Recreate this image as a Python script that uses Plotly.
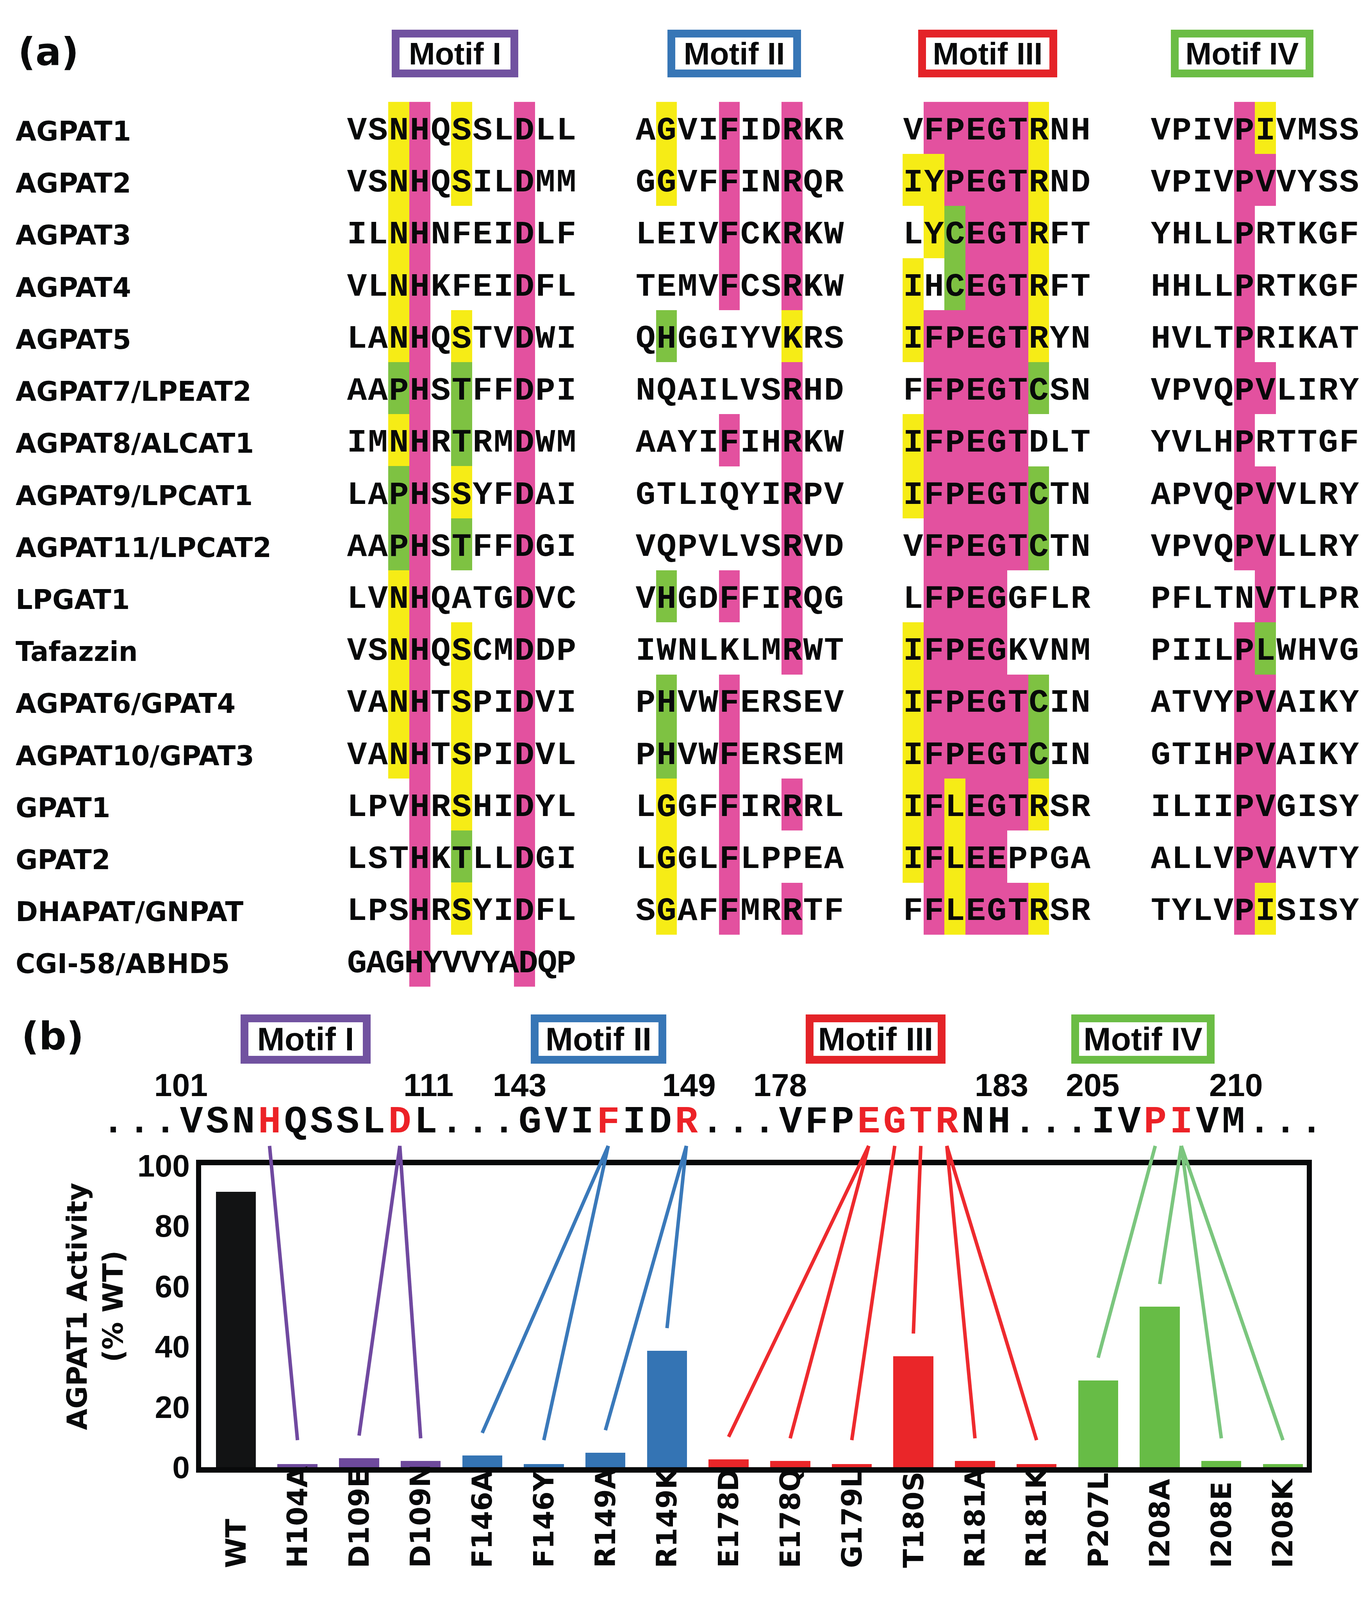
import numpy as np
import plotly.graph_objects as go

# reference geometry is measured on a 3513 x 4255 canvas; the browser viewport is
# 3513 x 4096, so the figure is drawn at that height and every vertical position is
# expressed as a fraction of the reference height (paper / axis domains).
W, H_REF = 3513, 4255
H = 4096
SY = H / H_REF
FS = 0.98  # font scale compensating the vertical squeeze

# ======================= DATA : panel (a) =======================
protein_names = [
    "AGPAT1", "AGPAT2", "AGPAT3", "AGPAT4", "AGPAT5", "AGPAT7/LPEAT2",
    "AGPAT8/ALCAT1", "AGPAT9/LPCAT1", "AGPAT11/LPCAT2", "LPGAT1", "Tafazzin",
    "AGPAT6/GPAT4", "AGPAT10/GPAT3", "GPAT1", "GPAT2", "DHAPAT/GNPAT", "CGI-58/ABHD5",
]
motif_titles = ["Motif I", "Motif II", "Motif III", "Motif IV"]

motif1_seqs = [
    "VSNHQSSLDLL", "VSNHQSILDMM", "ILNHNFEIDLF", "VLNHKFEIDFL", "LANHQSTVDWI",
    "AAPHSTFFDPI", "IMNHRTRMDWM", "LAPHSSYFDAI", "AAPHSTFFDGI", "LVNHQATGDVC",
    "VSNHQSCMDDP", "VANHTSPIDVI", "VANHTSPIDVL", "LPVHRSHIDYL", "LSTHKTLLDGI",
    "LPSHRSYIDFL", "GAGHYVVYADQP",
]
# p = conserved (magenta), y = similar (yellow), g = alternative (green)
motif1_marks = [
    "..yp.y..p..", "..yp.y..p..", "..yp....p..", "..yp....p..", "..yp.y..p..",
    "..gp.g..p..", "..yp.g..p..", "..gp.y..p..", "..gp.g..p..", "..yp....p..",
    "..yp.y..p..", "..yp.y..p..", "..yp.y..p..", "...p.y..p..", "...p.g..p..",
    "...p.y..p..", "...p....p..",
]
motif2_seqs = [
    "AGVIFIDRKR", "GGVFFINRQR", "LEIVFCKRKW", "TEMVFCSRKW", "QHGGIYVKRS",
    "NQAILVSRHD", "AAYIFIHRKW", "GTLIQYIRPV", "VQPVLVSRVD", "VHGDFFIRQG",
    "IWNLKLMRWT", "PHVWFERSEV", "PHVWFERSEM", "LGGFFIRRRL", "LGGLFLPPEA",
    "SGAFFMRRTF",
]
motif2_marks = [
    ".y..p..p..", ".y..p..p..", "....p..p..", "....p..p..", ".g.....y..",
    ".......p..", "....p..p..", ".......p..", ".......p..", ".g..p..p..",
    ".......p..", ".g..p.....", ".g..p.....", ".y..p..p..", ".y..p.....",
    ".y..p..p..",
]
motif3_seqs = [
    "VFPEGTRNH", "IYPEGTRND", "LYCEGTRFT", "IHCEGTRFT", "IFPEGTRYN",
    "FFPEGTCSN", "IFPEGTDLT", "IFPEGTCTN", "VFPEGTCTN", "LFPEGGFLR",
    "IFPEGKVNM", "IFPEGTCIN", "IFPEGTCIN", "IFLEGTRSR", "IFLEEPPGA",
    "FFLEGTRSR",
]
motif3_marks = [
    ".pppppy..", "yyppppy..", ".ygpppy..", "y.gpppy..", "ypppppy..",
    ".pppppg..", "yppppp...", "ypppppg..", ".pppppg..", ".pppp....",
    "ypppp....", "ypppppg..", "ypppppg..", "ypypppy..", "ypypp....",
    ".pypppy..",
]
motif4_seqs = [
    "VPIVPIVMSS", "VPIVPVVYSS", "YHLLPRTKGF", "HHLLPRTKGF", "HVLTPRIKAT",
    "VPVQPVLIRY", "YVLHPRTTGF", "APVQPVVLRY", "VPVQPVLLRY", "PFLTNVTLPR",
    "PIILPLWHVG", "ATVYPVAIKY", "GTIHPVAIKY", "ILIIPVGISY", "ALLVPVAVTY",
    "TYLVPISISY",
]
motif4_marks = [
    "....py....", "....pp....", "....p.....", "....p.....", "....p.....",
    "....pp....", "....p.....", "....pp....", "....pp....", ".....p....",
    "....pg....", "....pp....", "....pp....", "....pp....", "....pp....",
    "....py....",
]

# ======================= DATA : panel (b) =======================
seq_groups = ["VSNHQSSLDL", "GVIFIDR", "VFPEGTRNH", "IVPIVM"]
group_first_num = ["101", "143", "178", "205"]
group_last_num = ["111", "149", "183", "210"]
red_positions = [[3, 8], [3, 6], [3, 4, 5, 6], [2, 3]]

mutants = ["WT", "H104A", "D109E", "D109N", "F146A", "F146Y", "R149A", "R149K",
           "E178D", "E178Q", "G179L", "T180S", "R181A", "R181K", "P207L",
           "I208A", "I208E", "I208K"]
activity = [91.2, 1.1, 3.0, 2.1, 3.9, 1.1, 4.8, 38.6,
            2.6, 2.1, 1.1, 36.8, 2.1, 1.1, 28.8,
            53.2, 2.1, 1.1]
mutant_motif = [None, 0, 0, 0, 1, 1, 1, 1, 2, 2, 2, 2, 2, 2, 3, 3, 3, 3]
mutant_residue = [None, 3, 8, 8, 3, 3, 6, 6, 3, 3, 4, 5, 6, 6, 2, 3, 3, 3]

# ======================= STYLE / LAYOUT CONSTANTS =======================
PINK, YELLOW, GREEN_HL = "#E3519F", "#F6EC16", "#7EC242"
BOX_COLORS = ["#7152A0", "#3776B6", "#E42328", "#6BBD45"]
BAR_COLORS = ["#6E4A9C", "#3474B4", "#EA2629", "#67BC46"]
LINE_COLORS = ["#7049A0", "#3A79BA", "#EE2A2E", "#7BC67E"]
WT_COLOR = "#121314"
INK = "#08090A"
RED_INK = "#EC2227"

BOLD_WIDE = "DejaVu Sans"
BOLD_SANS = "Liberation Sans"
MONO = "Liberation Mono"

def fs(v):
    return round(v * FS, 1)

# panel (a) geometry (reference pixels)
A_BLOCK_COL0_PX = [914.0, 1653.0, 2338.0, 2972.0]
A_PITCH_PX = 53.6
A_ROW0_PX = 300.0
A_ROW_PX = 141.5
A_TEXT_DROP = 0.064
A_NAME_LEFT_PX = 38
A_BOX_CENTER_PX = [1165, 1880, 2529, 3180]
A_BOX_OUTER_W = [324, 342, 356, 365]
A_BOX_Y_PX, A_BOX_OUTER_H = 97.5, 127

# panel (b) geometry (reference pixels)
B_PLOT_L, B_PLOT_R = 515, 3346
B_BAR0_PX, B_BAR_PITCH = 604.0, 157.7
B_Y0_PX, B_Y100_PX = 3942.0, 3121.0
PPU = (B_Y0_PX - B_Y100_PX) / 100.0
SEQ_X0_PX, SEQ_PITCH_PX = 290.0, 66.7
SEQ_Y_PX, NUM_Y_PX, LINE_TOP_PX = 3005.0, 2911.0, 3068.0
B_BOX_CENTER_PX = [782.5, 1532.5, 2242, 2926.5]
B_BOX_OUTER_W = [333, 347, 358, 367]
B_BOX_Y_PX, B_BOX_OUTER_H = 2777.5, 131
XLABEL_BOTTOM_PX = 4218
BORDER = 20

def paper_y(px):
    return 1 - px / H_REF

def yv(px):  # reference pixel row -> value on panel (b) overlay axis
    return (B_Y0_PX - px) / PPU

def char_x(i):  # sequence char index -> bar-axis units
    return (SEQ_X0_PX + SEQ_PITCH_PX * i - B_BAR0_PX) / B_BAR_PITCH

fig = go.Figure()

# ======================= PANEL (a) =======================
code = {"p": 1, "y": 2, "g": 3}
hl_scale = [[0, PINK], [1 / 3, PINK], [1 / 3, YELLOW], [2 / 3, YELLOW],
            [2 / 3, GREEN_HL], [1, GREEN_HL]]
blocks = [(motif1_seqs, motif1_marks), (motif2_seqs, motif2_marks),
          (motif3_seqs, motif3_marks), (motif4_seqs, motif4_marks)]
for b, (seqs, marks) in enumerate(blocks):
    off = (A_BLOCK_COL0_PX[b] - A_BLOCK_COL0_PX[0]) / A_PITCH_PX
    ncol = len(marks[0])
    z = [[code.get(c) for c in row] for row in marks]
    fig.add_trace(go.Heatmap(
        z=z, x=off + np.arange(ncol), y=np.arange(len(marks)),
        colorscale=hl_scale, zmin=0.5, zmax=3.5, showscale=False,
        hoverinfo="skip", xaxis="x2", yaxis="y2"))
    xs, ys, ts = [], [], []
    for r, s in enumerate(seqs):
        step = (ncol - 1) / (len(s) - 1)
        for j, ch in enumerate(s):
            xs.append(off + j * step)
            ys.append(r + A_TEXT_DROP)
            ts.append(ch)
    fig.add_trace(go.Scatter(
        x=xs, y=ys, text=ts, mode="text", hoverinfo="skip",
        textfont=dict(family=MONO, size=fs(86), color=INK, weight="bold"),
        xaxis="x2", yaxis="y2", cliponaxis=False, showlegend=False))

annotations = []
for r, name in enumerate(protein_names):
    annotations.append(dict(
        text=name, x=A_NAME_LEFT_PX / W, xref="paper", xanchor="left",
        y=r + A_TEXT_DROP, yref="y2", yanchor="middle", showarrow=False,
        font=dict(family=BOLD_WIDE, size=fs(70), color=INK, weight="bold")))

for k, t in enumerate(motif_titles):
    annotations.append(dict(
        text=t, x=A_BOX_CENTER_PX[k] / W, xref="paper", xanchor="center",
        y=paper_y(A_BOX_Y_PX), yref="paper", yanchor="middle", showarrow=False,
        width=A_BOX_OUTER_W[k] - 2 * BORDER, height=round(A_BOX_OUTER_H * SY) - 2 * BORDER,
        bordercolor=BOX_COLORS[k], borderwidth=BORDER, borderpad=0, bgcolor="white",
        font=dict(family=BOLD_SANS, size=fs(82), color=INK, weight="bold")))
    annotations.append(dict(
        text=t, x=B_BOX_CENTER_PX[k] / W, xref="paper", xanchor="center",
        y=paper_y(B_BOX_Y_PX), yref="paper", yanchor="middle", showarrow=False,
        width=B_BOX_OUTER_W[k] - 2 * BORDER, height=round(B_BOX_OUTER_H * SY) - 2 * BORDER,
        bordercolor=BOX_COLORS[k], borderwidth=BORDER, borderpad=0, bgcolor="white",
        font=dict(family=BOLD_SANS, size=fs(86), color=INK, weight="bold")))

annotations.append(dict(text="(a)", x=124 / W, y=paper_y(93), xref="paper", yref="paper",
                        xanchor="center", yanchor="middle", showarrow=False,
                        font=dict(family=BOLD_WIDE, size=fs(100), color=INK, weight="bold")))
annotations.append(dict(text="(b)", x=135 / W, y=paper_y(2770), xref="paper", yref="paper",
                        xanchor="center", yanchor="middle", showarrow=False,
                        font=dict(family=BOLD_WIDE, size=fs(100), color=INK, weight="bold")))

# ======================= PANEL (b) =======================
bar_colors = [WT_COLOR if m is None else BAR_COLORS[m] for m in mutant_motif]
fig.add_trace(go.Bar(x=np.arange(len(mutants)), y=activity, marker_color=bar_colors,
                     marker_line_width=0, width=0.65, hoverinfo="skip",
                     xaxis="x", yaxis="y", showlegend=False))

# sequence line
full_chars, full_cols, group_start = [], [], []
for g, grp in enumerate(seq_groups):
    full_chars += list("...")
    full_cols += [INK] * 3
    group_start.append(len(full_chars))
    for j, ch in enumerate(grp):
        full_chars.append(ch)
        full_cols.append(RED_INK if j in red_positions[g] else INK)
full_chars += list("...")
full_cols += [INK] * 3
idx = np.arange(len(full_chars))
fig.add_trace(go.Scatter(
    x=[char_x(i) for i in idx], y=[yv(SEQ_Y_PX)] * len(idx), text=full_chars,
    mode="text", textfont=dict(family=MONO, size=fs(100), color=full_cols, weight="bold"),
    hoverinfo="skip", xaxis="x3", yaxis="y3", cliponaxis=False, showlegend=False))

# residue numbers
num_x, num_t = [], []
for g, grp in enumerate(seq_groups):
    num_x.append(char_x(group_start[g] - 0.4))
    num_t.append(group_first_num[g])
    num_x.append(char_x(group_start[g] + len(grp) - 1 + 0.1))
    num_t.append(group_last_num[g])
fig.add_trace(go.Scatter(
    x=num_x, y=[yv(NUM_Y_PX)] * len(num_x), text=num_t, mode="text",
    textfont=dict(family=BOLD_SANS, size=fs(84), color=INK, weight="bold"),
    hoverinfo="skip", xaxis="x3", yaxis="y3", cliponaxis=False, showlegend=False))

# connector lines residue -> bar
for m in range(4):
    lx, ly = [], []
    for k, (mm, res) in enumerate(zip(mutant_motif, mutant_residue)):
        if mm != m:
            continue
        lx += [char_x(group_start[m] + res), k, None]
        ly += [yv(LINE_TOP_PX), max(activity[k], 1.5) + 7.5, None]
    fig.add_trace(go.Scatter(x=lx, y=ly, mode="lines",
                             line=dict(color=LINE_COLORS[m], width=9),
                             hoverinfo="skip", xaxis="x3", yaxis="y3",
                             cliponaxis=False, showlegend=False))

for k, name in enumerate(mutants):
    annotations.append(dict(
        text=name, x=k, xref="x", y=paper_y(XLABEL_BOTTOM_PX), yref="paper",
        xanchor="center", yanchor="bottom", textangle=-90, showarrow=False,
        font=dict(family=BOLD_WIDE, size=fs(72), color=INK, weight="bold")))

annotations.append(dict(
    text="AGPAT1 Activity<br>(% WT)", x=244 / W, y=paper_y(3505), xref="paper", yref="paper",
    xanchor="center", yanchor="middle", textangle=-90, showarrow=False,
    font=dict(family=BOLD_WIDE, size=fs(72), color=INK, weight="bold")))

hidden = dict(visible=False, showgrid=False, zeroline=False, fixedrange=True)
fig.update_layout(
    width=W, height=H, margin=dict(l=0, r=0, t=0, b=0, pad=0),
    paper_bgcolor="white", plot_bgcolor="rgba(0,0,0,0)", showlegend=False,
    bargap=0,
    xaxis=dict(domain=[B_PLOT_L / W, B_PLOT_R / W],
               range=[(B_PLOT_L - B_BAR0_PX) / B_BAR_PITCH, (B_PLOT_R - B_BAR0_PX) / B_BAR_PITCH],
               showline=True, linewidth=14, linecolor=INK, mirror=True,
               showticklabels=False, ticks="", showgrid=False, zeroline=False, anchor="y"),
    yaxis=dict(domain=[paper_y(B_Y0_PX), paper_y(B_Y100_PX)], range=[0, 100],
               tickvals=[0, 20, 40, 60, 80, 100], ticks="",
               tickfont=dict(family=BOLD_SANS, size=fs(82), color=INK, weight="bold"),
               showline=True, linewidth=13, linecolor=INK, mirror=True,
               showgrid=False, zeroline=False, anchor="x"),
    xaxis2=dict(hidden, domain=[0, 1], anchor="y2",
                range=[(0 - A_BLOCK_COL0_PX[0]) / A_PITCH_PX, (W - A_BLOCK_COL0_PX[0]) / A_PITCH_PX]),
    yaxis2=dict(hidden, domain=[0, 1], anchor="x2",
                range=[(H_REF - A_ROW0_PX) / A_ROW_PX, (0 - A_ROW0_PX) / A_ROW_PX]),
    xaxis3=dict(hidden, domain=[0, 1], anchor="y3",
                range=[(0 - B_BAR0_PX) / B_BAR_PITCH, (W - B_BAR0_PX) / B_BAR_PITCH]),
    yaxis3=dict(hidden, domain=[0, 1], anchor="x3", range=[yv(H_REF), yv(0)]),
    annotations=annotations,
)

fig.write_html("out.html", config={"displayModeBar": False, "staticPlot": True},
               post_script="document.body.style.margin='0';document.body.style.overflow='hidden';")
